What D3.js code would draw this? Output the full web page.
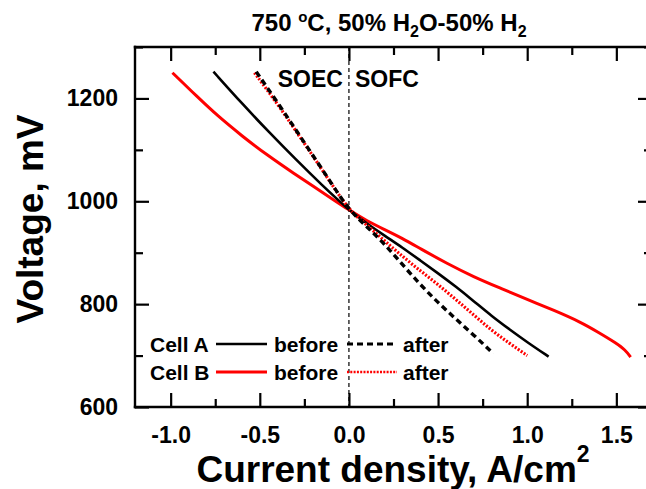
<!DOCTYPE html>
<html>
<head>
<meta charset="utf-8">
<script src="https://cdn.jsdelivr.net/npm/d3@7"></script>
<style>
  html, body { margin: 0; padding: 0; background: #fff; }
  svg { display: block; }
  text { font-family: "Liberation Sans", Arial, sans-serif; font-weight: bold; fill: #000; }
</style>
</head>
<body>
<svg id="chart" width="646" height="489"></svg>
<script>
// ---- Data (current density A/cm2, voltage mV) ----
const cellABeforeX = [-0.76, -0.6, -0.45, -0.3, -0.15, 0, 0.1, 0.2, 0.3, 0.4, 0.5, 0.6, 0.7, 0.8, 0.9, 1.0, 1.12];
const cellABeforeY = [1252, 1190, 1135, 1082, 1031, 983, 957, 933, 910, 885, 860, 834, 806, 777, 751, 726, 698];

const cellBBeforeX = [-0.99, -0.85, -0.74, -0.6, -0.46, -0.3, -0.2, -0.1, 0, 0.1, 0.2, 0.3, 0.4, 0.55, 0.7, 0.85, 1.0, 1.15, 1.3, 1.4, 1.5, 1.55, 1.58];
const cellBBeforeY = [1250, 1203, 1167, 1127, 1090, 1052, 1029, 1006, 983, 962, 945, 928, 908, 879, 853, 831, 809, 788, 765, 745, 724, 711, 697];

const cellAAfterX = [-0.52, -0.4, -0.3, -0.2, -0.1, 0, 0.1, 0.2, 0.3, 0.4, 0.5, 0.6, 0.7, 0.81];
const cellAAfterY = [1252, 1192, 1140, 1088, 1036, 983, 951, 917, 877, 838, 803, 771, 740, 704];

const cellBAfterX = [-0.53, -0.4, -0.3, -0.2, -0.1, 0, 0.1, 0.2, 0.3, 0.4, 0.5, 0.6, 0.7, 0.8, 0.9, 1.0];
const cellBAfterY = [1250, 1189, 1138, 1087, 1035, 983, 954, 923, 893, 865, 838, 809, 779, 749, 724, 700];

const xTicksMajor = [-1.0, -0.5, 0.0, 0.5, 1.0, 1.5];
const xTicksMinor = [-0.75, -0.25, 0.25, 0.75, 1.25];
const yTicksMajor = [600, 800, 1000, 1200];
const yTicksMinor = [700, 900, 1100, 1300];

// ---- Layout ----
const L = 135, R = 652, T = 47, B = 407;
const svg = d3.select("#chart");

const xScale = d3.scaleLinear().domain([-1.2, 1.7]).range([L, R]);
const yScale = d3.scaleLinear().domain([600, 1300]).range([B, T]);

const MAJ = 14, MIN = 8;

// zero dashed line
svg.append("line").attr("x1", xScale(0)).attr("x2", xScale(0)).attr("y1", T).attr("y2", B)
  .attr("stroke", "#000").attr("stroke-width", 1.2).attr("stroke-dasharray", "4,3");

// curves
const lineGen = d3.line().x(d => xScale(d[0])).y(d => yScale(d[1])).curve(d3.curveBasis);
const series = [
  { xs: cellBBeforeX, ys: cellBBeforeY, color: "#ff0000", width: 3, dash: null },
  { xs: cellABeforeX, ys: cellABeforeY, color: "#000000", width: 2.6, dash: null },
  { xs: cellBAfterX, ys: cellBAfterY, color: "#ff0000", width: 3.2, dash: "2,1.6" },
  { xs: cellAAfterX, ys: cellAAfterY, color: "#000000", width: 3.4, dash: "6,4" }
];
series.forEach(s => {
  const pts = s.xs.map((v, i) => [v, s.ys[i]]);
  const p = svg.append("path").datum(pts).attr("d", lineGen)
    .attr("fill", "none").attr("stroke", s.color).attr("stroke-width", s.width);
  if (s.dash) p.attr("stroke-dasharray", s.dash);
});

// title
const title = svg.append("text").attr("x", 389).attr("y", 31).attr("text-anchor", "middle").attr("font-size", 24);
title.append("tspan").text("750 ");
title.append("tspan").attr("font-size", 15).attr("dy", -9).text("o");
title.append("tspan").attr("dy", 9).text("C, 50% H");
title.append("tspan").attr("font-size", 16).attr("dy", 6).text("2");
title.append("tspan").attr("dy", -6).text("O-50% H");
title.append("tspan").attr("font-size", 16).attr("dy", 6).text("2");

// SOEC / SOFC
svg.append("text").attr("x", xScale(0) - 6).attr("y", 87).attr("text-anchor", "end").attr("font-size", 23).text("SOEC");
svg.append("text").attr("x", xScale(0) + 6).attr("y", 87).attr("text-anchor", "start").attr("font-size", 23).text("SOFC");

// axis titles
const xt = svg.append("text").attr("x", 393).attr("y", 482).attr("text-anchor", "middle").attr("font-size", 37);
xt.append("tspan").text("Current density, A/cm");
xt.append("tspan").attr("font-size", 23).attr("dy", -20).text("2");

svg.append("text").attr("transform", "translate(43,219) rotate(-90)").attr("text-anchor", "middle")
  .attr("font-size", 37).text("Voltage, mV");

// legend
const legendRows = [
  { label: "Cell A", color: "#000000", y: 344, dashAfter: "6,4", wAfter: 3, wBefore: 2.6 },
  { label: "Cell B", color: "#ff0000", y: 372, dashAfter: "2,1.3", wAfter: 2.5, wBefore: 3 }
];
legendRows.forEach(r => {
  svg.append("text").attr("x", 150).attr("y", r.y + 8).attr("font-size", 21).text(r.label);
  svg.append("line").attr("x1", 216).attr("x2", 267).attr("y1", r.y).attr("y2", r.y)
    .attr("stroke", r.color).attr("stroke-width", r.wBefore);
  svg.append("text").attr("x", 274).attr("y", r.y + 8).attr("font-size", 21).text("before");
  svg.append("line").attr("x1", 347).attr("x2", 397).attr("y1", r.y).attr("y2", r.y)
    .attr("stroke", r.color).attr("stroke-width", r.wAfter).attr("stroke-dasharray", r.dashAfter);
  svg.append("text").attr("x", 403).attr("y", r.y + 8).attr("font-size", 21).text("after");
});

// ---- axes (drawn last) ----
function styleAxis(g) {
  g.select(".domain").remove();
  g.selectAll(".tick line").attr("stroke", "#000").attr("stroke-width", 2.2);
}
function addAxis(axis, tx, ty) {
  return svg.append("g").attr("transform", `translate(${tx},${ty})`).call(axis).call(styleAxis);
}
addAxis(d3.axisBottom(xScale).tickValues(xTicksMajor).tickSize(-MAJ).tickSizeOuter(0).tickPadding(20)
  .tickFormat(d => d3.format(".1f")(d).replace("\u2212", "-")), 0, B)
  .call(g => g.selectAll("text").attr("font-size", 23).attr("font-family", null));
addAxis(d3.axisBottom(xScale).tickValues(xTicksMinor).tickSize(-MIN).tickSizeOuter(0).tickFormat(""), 0, B);
addAxis(d3.axisTop(xScale).tickValues(xTicksMajor).tickSize(-MAJ).tickSizeOuter(0).tickFormat(""), 0, T);
addAxis(d3.axisTop(xScale).tickValues(xTicksMinor).tickSize(-MIN).tickSizeOuter(0).tickFormat(""), 0, T);
addAxis(d3.axisLeft(yScale).tickValues(yTicksMajor).tickSize(-MAJ).tickSizeOuter(0).tickPadding(17).tickFormat(d3.format("d")), L, 0)
  .call(g => g.selectAll("text").attr("font-size", 23).attr("font-family", null));
addAxis(d3.axisLeft(yScale).tickValues(yTicksMinor).tickSize(-MIN).tickSizeOuter(0).tickFormat(""), L, 0);
addAxis(d3.axisRight(yScale).tickValues(yTicksMajor).tickSize(-MAJ).tickSizeOuter(0).tickFormat(""), R, 0);
addAxis(d3.axisRight(yScale).tickValues(yTicksMinor).tickSize(-MIN).tickSizeOuter(0).tickFormat(""), R, 0);

// frame
const frame = svg.append("g");
[[L, T, R, T], [L, B, R, B], [L, T, L, B], [R, T, R, B]].forEach(c => {
  frame.append("line").attr("x1", c[0]).attr("y1", c[1]).attr("x2", c[2]).attr("y2", c[3])
    .attr("stroke", "#000").attr("stroke-width", 2.4).attr("stroke-linecap", "square");
});
</script>
</body>
</html>
